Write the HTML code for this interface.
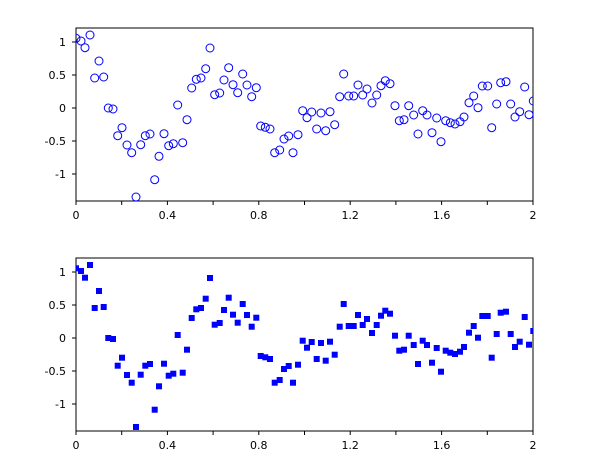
<!DOCTYPE html>
<html><head><style>
html,body{margin:0;padding:0;background:#fff;width:610px;height:460px;overflow:hidden}
svg text{font-family:"DejaVu Sans","Liberation Sans",sans-serif;font-size:11px;fill:#000}
</style></head><body>
<svg id="s" width="610" height="460" xmlns="http://www.w3.org/2000/svg"></svg>
<script>
const P=[[76,38.3],[81,41],[85,47.7],[90,35],[94.7,78],[99,61],[103.7,77],[108.3,108],[113,109],[117.7,135.7],[122,127.7],[127,145],[131.7,152.7],[136,197],[140.7,144.7],[145.3,135.7],[150,134],[154.7,179.7],[159,156.3],[164,133.7],[168.7,145.7],[173.3,143.7],[177.7,105],[182.7,142.7],[187,119.7],[191.7,88],[196.3,79.3],[201,78],[205.7,68.7],[210,48],[214.7,94.7],[219.7,93],[224,80],[228.7,67.7],[233,84.7],[237.7,92.7],[242.7,74],[247,85],[251.7,96.7],[256.3,87.7],[260.7,126],[265.3,127.3],[270,129],[274.7,152.7],[279.7,150],[284,139],[288.7,136],[293,152.7],[298,134.7],[302.7,110.7],[307,117.7],[311.7,112],[316.7,129],[321,113],[325.7,130.7],[330,111.7],[334.7,124.7],[339.7,96.7],[343.7,74],[348.7,96],[353.7,96],[358,85],[362.7,95],[367,89],[372,103],[376.7,95],[381,85.7],[385.3,80.7],[390,83.7],[395,105.7],[399.3,120.7],[404,119.7],[408.7,105.7],[413.7,115],[418,134],[422.7,110.7],[427,115],[432,132.7],[436.7,118],[441,141.7],[445.7,120.7],[450.3,122.7],[455,124],[460,121.7],[464,117],[469,102.7],[473.7,96],[478,107.7],[482.3,86],[487.7,86],[491.7,127.7],[496.7,104],[500.7,82.7],[506,81.7],[510.7,104],[515,117],[519.7,111.7],[524.7,87],[529,114.7],[533.3,101]];
let h='';
function axes(off){
 const x0=76,x1=533,y0=28+off,y1=201+off;
 h+=`<defs><clipPath id="c${off}"><rect x="${x0}" y="${y0}" width="${x1-x0}" height="${y1-y0}"/></clipPath></defs>`;
 h+=`<rect x="${x0}" y="${y0}" width="${x1-x0}" height="${y1-y0}" fill="none" stroke="#000" stroke-width="1"/>`;
 for(let i=0;i<=10;i++){const x=x0+i*(x1-x0)/10;h+=`<line x1="${x}" y1="${y1}" x2="${x}" y2="${y1+4}" stroke="#000"/>`;
  if(i%2==0){const l=(i/5).toString();h+=`<text x="${x}" y="${y1+18}" text-anchor="middle">${l}</text>`;}}
 const yl=[[1,'1'],[0.5,'0.5'],[0,'0'],[-0.5,'-0.5'],[-1,'-1']];
 for(const [v,l] of yl){const y=108+off-v*66;h+=`<line x1="${x0-4}" y1="${y}" x2="${x0}" y2="${y}" stroke="#000"/><text x="${x0-10}" y="${y+4}" text-anchor="end">${l}</text>`;}
}
axes(0);axes(230);
h+='<g clip-path="url(#c0)">';for(const [x,y] of P)h+=`<circle cx="${x}" cy="${y}" r="4" fill="none" stroke="#0000ff" stroke-width="1"/>`;h+='</g>';
h+='<g clip-path="url(#c230)">';for(const [x,y] of P)h+=`<rect x="${x-3}" y="${y+230-3}" width="6" height="6" fill="#0000ff"/>`;h+='</g>';
document.getElementById('s').innerHTML=h;
</script>
</body></html>
